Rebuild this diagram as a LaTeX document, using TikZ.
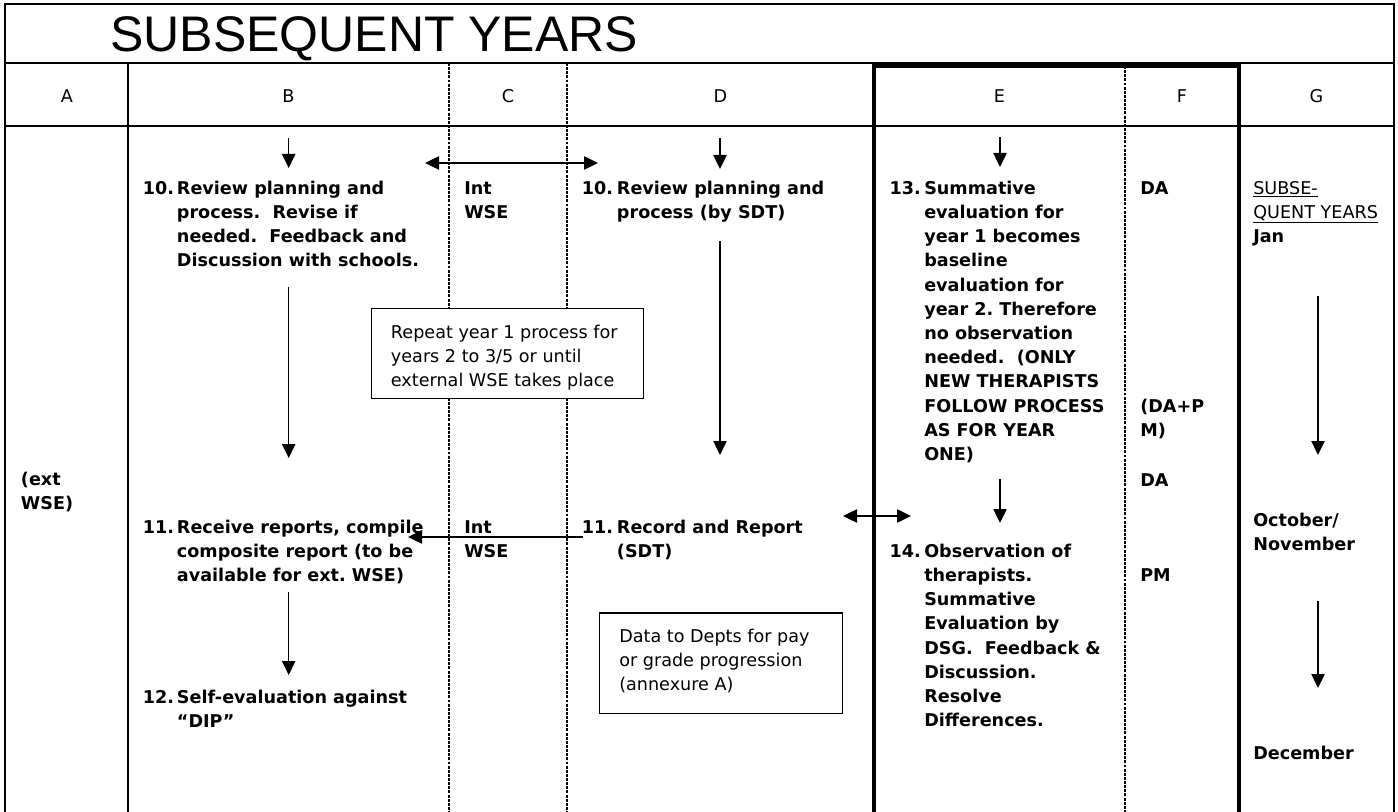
\documentclass[tikz,border=0pt]{standalone}
\usepackage{fontspec}
\setmainfont{DejaVu Sans}
\newfontfamily\titlefont{Liberation Sans}
\usetikzlibrary{arrows.meta}
\newcommand\bodyb{\fontsize{13.2pt}{18.15pt}\selectfont\bfseries}
\newcommand\bodyr{\fontsize{13.2pt}{18.15pt}\selectfont}
\newcommand\ttl{\titlefont\fontsize{37.5pt}{40pt}\selectfont}
\frenchspacing
\begin{document}
\begin{tikzpicture}[x=0.75pt,y=-0.75pt,
  rule/.style={line width=1pt},
  heavy/.style={line width=3.7pt, line join=miter},
  dsh/.style={line width=0.9pt, dash pattern=on 2.2pt off 0.9pt},
  arr/.style={-{Triangle[width=10pt,length=10.5pt]}, line width=1pt},
  darr/.style={{Triangle[width=10pt,length=10.5pt]}-{Triangle[width=10pt,length=10.5pt]}, line width=1pt},
  bt/.style={anchor=north west, inner sep=0pt, align=left, font=\bodyb},
  rt/.style={anchor=north west, inner sep=0pt, align=left, font=\bodyr},
  hdr/.style={anchor=base, inner sep=0pt, font=\bodyr},
  frame/.style={draw, fill=white, line width=0.9pt, inner sep=0pt, anchor=north west}
]
\useasboundingbox (0,0) rectangle (1398,812);

% table grid
\draw[rule] (5,812) -- (5,4) -- (1394,4) -- (1394,812);
\draw[rule] (5,63) -- (1394,63);
\draw[rule] (5,126) -- (1394,126);
\draw[rule] (128,63) -- (128,812);
\draw[dsh] (449,63) -- (449,812);
\draw[dsh] (567,63) -- (567,812);
\draw[dsh] (1125,66) -- (1125,812);
\draw[heavy] (874,812) -- (874,65.5) -- (1239,65.5) -- (1239,812);

% title and headers
\node[anchor=base west, inner sep=0pt, font=\ttl] (title) at (110,52) {SUBSEQUENT YEARS};
\node[hdr] (hA) at (67,102.5) {A};
\node[hdr] (hB) at (288.5,102.5) {B};
\node[hdr] (hC) at (508,102.5) {C};
\node[hdr] (hD) at (720.5,102.5) {D};
\node[hdr] (hE) at (999.5,102.5) {E};
\node[hdr] (hF) at (1182,102.5) {F};
\node[hdr] (hG) at (1316.5,102.5) {G};

% column A
\node[bt] (extA) at (20.7,468.1) {\strut(ext\\WSE)};

% column B
\node[bt] (n10b) at (142.7,177.1) {\strut10.};
\node[bt] (t10b) at (176.7,177.1) {\strut Review planning and\\process.\ \ Revise if\\needed.\ \ Feedback and\\Discussion with schools.};
\node[bt] (n11b) at (142.7,516.1) {\strut11.};
\node[bt] (t11b) at (176.7,516.1) {\strut Receive reports, compile\\composite report (to be\\available for ext. WSE)};
\node[bt] (n12b) at (142.7,686.1) {\strut12.};
\node[bt] (t12b) at (176.7,686.1) {\strut Self-evaluation against\\“DIP”};

% column C
\node[bt] (c1) at (464,177.1) {\strut Int\\WSE};
\node[bt] (c2) at (464,516.1) {\strut Int\\WSE};

% column D
\node[bt] (n10d) at (581.7,177.1) {\strut10.};
\node[bt] (t10d) at (616.7,177.1) {\strut Review planning and\\process (by SDT)};
\node[bt] (n11d) at (581.7,516.1) {\strut11.};
\node[bt] (t11d) at (616.7,516.1) {\strut Record and Report\\(SDT)};

% boxes
\node[frame, minimum width=272pt*0.75, minimum height=90pt*0.75] (repeatbox) at (371,308) {};
\node[rt] (repeattext) at (390.7,320.8) {\strut Repeat year 1 process for\\years 2 to 3/5 or until\\external WSE takes place};
\node[frame, minimum width=242.7pt*0.75, minimum height=100.4pt*0.75] (databox) at (599,612.3) {};
\node[rt] (datatext) at (619,625.1) {\strut Data to Depts for pay\\or grade progression\\(annexure A)};

% column E
\node[bt] (n13) at (889.4,177.1) {\strut13.};
\node[bt] (t13) at (924,177.1) {\strut Summative\\evaluation for\\year 1 becomes\\baseline\\evaluation for\\year 2. Therefore\\no observation\\needed.\ \ (ONLY\\NEW THERAPISTS\\FOLLOW PROCESS\\AS FOR YEAR\\ONE)};
\node[bt] (n14) at (889.4,540.1) {\strut14.};
\node[bt] (t14) at (924,540.1) {\strut Observation of\\therapists.\\Summative\\Evaluation by\\DSG.\ \ Feedback \&\\Discussion.\\Resolve\\Differences.};

% column F
\node[bt] (f1) at (1140,177.1) {\strut DA};
\node[bt] (f2) at (1140,395.1) {\strut(DA+P\\M)};
\node[bt] (f3) at (1140,469.1) {\strut DA};
\node[bt] (f4) at (1140,564.1) {\strut PM};

% column G
\node[bt] (g1) at (1253,177.1) {\strut\mdseries\underline{SUBSE-}\\\mdseries\underline{QUENT YEARS}\\Jan};
\node[bt] (g2) at (1253,509.1) {\strut October/\\November};
\node[bt] (g3) at (1253,742.1) {\strut December};

% arrow end points
\coordinate (b1s) at (288.7,138); \coordinate (b1e) at (288.7,168);
\coordinate (b2s) at (288.7,287); \coordinate (b2e) at (288.7,458);
\coordinate (b3s) at (288.7,592); \coordinate (b3e) at (288.7,675);
\coordinate (d1s) at (720,138);   \coordinate (d1e) at (720,169);
\coordinate (d2s) at (720,241);   \coordinate (d2e) at (720,455);
\coordinate (e1s) at (1000,137);  \coordinate (e1e) at (1000,167);
\coordinate (e2s) at (1000,479);  \coordinate (e2e) at (1000,523);
\coordinate (g1s) at (1318,296);  \coordinate (g1e) at (1318,455);
\coordinate (g2s) at (1318,601);  \coordinate (g2e) at (1318,688);
\coordinate (hl) at (425,163);    \coordinate (hr) at (598,163);
\coordinate (ml) at (843,516);    \coordinate (mr) at (911,516);
\coordinate (rs) at (582.7,537);  \coordinate (re) at (408,537);

\draw[arr] (b1s) -- (b1e);
\draw[arr] (b2s) -- (b2e);
\draw[arr] (b3s) -- (b3e);
\draw[arr] (d1s) -- (d1e);
\draw[arr] (d2s) -- (d2e);
\draw[arr] (e1s) -- (e1e);
\draw[arr] (e2s) -- (e2e);
\draw[arr] (g1s) -- (g1e);
\draw[arr] (g2s) -- (g2e);
\draw[darr] (hl) -- (hr);
\draw[darr] (ml) -- (mr);
\draw[arr] (rs) -- (re);
\end{tikzpicture}
\end{document}
